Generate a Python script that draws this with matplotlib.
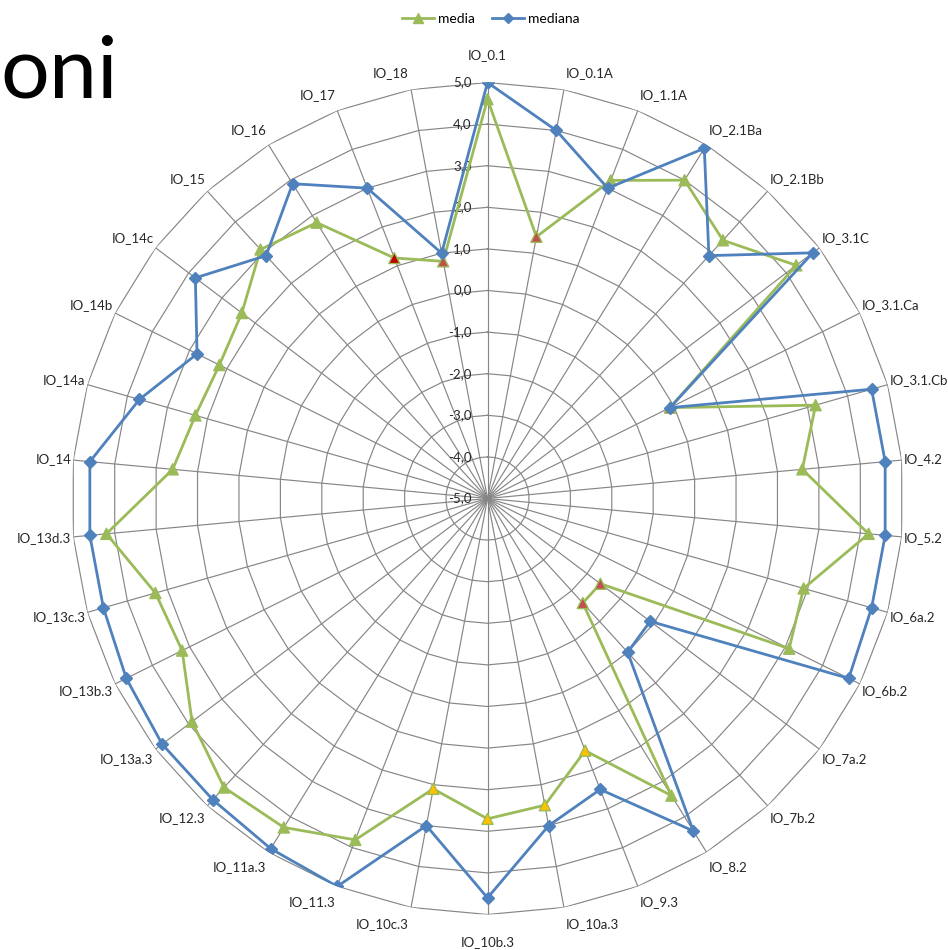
import numpy as np
import matplotlib
matplotlib.use("Agg")
from matplotlib import pyplot as plt
from matplotlib.lines import Line2D

categories = ["IO_0.1", "IO_0.1A", "IO_1.1A", "IO_2.1Ba", "IO_2.1Bb", "IO_3.1C",
	"IO_3.1.Ca", "IO_3.1.Cb", "IO_4.2", "IO_5.2", "IO_6a.2", "IO_6b.2",
	"IO_7a.2", "IO_7b.2", "IO_8.2", "IO_9.3", "IO_10a.3", "IO_10b.3",
	"IO_10c.3", "IO_11.3", "IO_11a.3", "IO_12.3", "IO_13a.3", "IO_13b.3",
	"IO_13c.3", "IO_13d.3", "IO_14", "IO_14a", "IO_14b", "IO_14c",
	"IO_15", "IO_16", "IO_17", "IO_18"]
media = [4.6, 1.4, 3.2, 4.0, 3.4, 4.3, -0.1, 3.2, 2.6, 4.2, 2.9, 3.1,
	-1.6, -1.6, 3.4, 1.5, 2.5, 2.7, 2.1, 3.8, 4.3, 4.4, 3.9, 3.2,
	3.3, 4.2, 2.6, 2.3, 2.2, 2.4, 3.1, 2.8, 1.2, 0.8]
mediana = [5.0, 4.0, 3.0, 4.9, 2.9, 4.8, -0.1, 4.6, 4.6, 4.6, 4.6, 4.7,
	-0.1, 0.0, 4.4, 2.5, 3.0, 4.6, 3.0, 5.0, 4.9, 4.8, 4.8, 4.7,
	4.6, 4.6, 4.6, 3.7, 2.8, 3.8, 2.9, 3.9, 3.0, 1.0]
# highlighted points of the "media" series
media_flags = {1: "#C0504D", 6: "#C0504D", 12: "#C0504D", 13: "#C0504D",
	15: "#FFC000", 16: "#FFC000", 17: "#FFC000", 18: "#FFC000",
	32: "#C00000", 33: "#C0504D"}
rings = [-5, -4, -3, -2, -1, 0, 1, 2, 3, 4, 5]

GREEN = "#9BBB59"
BLUE = "#4F81BD"
GRID = "#868686"
TEXT = "#262626"
FONT = "Lato"

W, H = 948, 950
cx, cy, rad = 487.5, 498.5, 416.0

fig = plt.figure(figsize=(W / 100, H / 100), dpi=100)
ax = fig.add_axes([(cx - rad) / W, (H - cy - rad) / H, 2 * rad / W, 2 * rad / H], projection="polar")
ax.set_theta_zero_location("N")
ax.set_theta_direction(-1)
ax.set_ylim(rings[0], rings[-1])
ax.set_axis_off()

n = len(categories)
theta = np.arange(n) * 2 * np.pi / n
closed = np.append(theta, theta[0])

# web grid: polygon rings and spokes
for v in rings[1:]:
	ax.plot(closed, [v] * (n + 1), color=GRID, lw=0.85, zorder=1)
for t in theta:
	ax.plot([t, t], [rings[0], rings[-1]], color=GRID, lw=0.85, zorder=1)

# radial value labels
for v in rings:
	ax.annotate("{0:.1f}".format(v).replace(".", ","), xy=(0, v), xytext=(-11.5, 0),
		textcoords="offset points", ha="right", va="center",
		fontsize=9.5, color=TEXT, family=FONT, zorder=2)

# category labels just outside the outer ring
for t, name in zip(theta, categories):
	s, c = np.sin(t), np.cos(t)
	if abs(s) < 0.1:
		ha, dx, dy = "center", 0, 20 * np.sign(c)
	else:
		ha = "left" if s > 0 else "right"
		dx, dy = 1.5 * np.sign(s), 12.2 * c
	ax.annotate(name, xy=(t, rings[-1]), xytext=(dx, dy), textcoords="offset points",
		ha=ha, va="center", fontsize=9.5, color=TEXT, family=FONT, annotation_clip=False)

ax.plot(closed, media + media[:1], color=GREEN, lw=2.0, zorder=3)
face = [media_flags.get(i, GREEN) for i in range(n)]
ax.scatter(theta, media, marker="^", s=64, c=face, edgecolors=GREEN, linewidths=1.0, zorder=4)

ax.plot(closed, mediana + mediana[:1], color=BLUE, lw=2.0, marker="D", ms=6,
	mfc=BLUE, mec=BLUE, zorder=5)

handles = [Line2D([], [], color=GREEN, lw=2.0, marker="^", ms=7.5),
	Line2D([], [], color=BLUE, lw=2.0, marker="D", ms=5.5)]
fig.legend(handles, ["media", "mediana"], loc="center", bbox_to_anchor=(491 / W, 1 - 19 / H),
	ncol=2, frameon=False, handlelength=2.3, handletextpad=0.3, columnspacing=1.2,
	prop={"family": FONT, "size": 10})

fig.text(0, 1 - 97 / H, "oni", ha="left", va="baseline", fontsize=62,
	family=FONT, color="black")

fig.savefig("out.png", dpi=100, facecolor="white")
